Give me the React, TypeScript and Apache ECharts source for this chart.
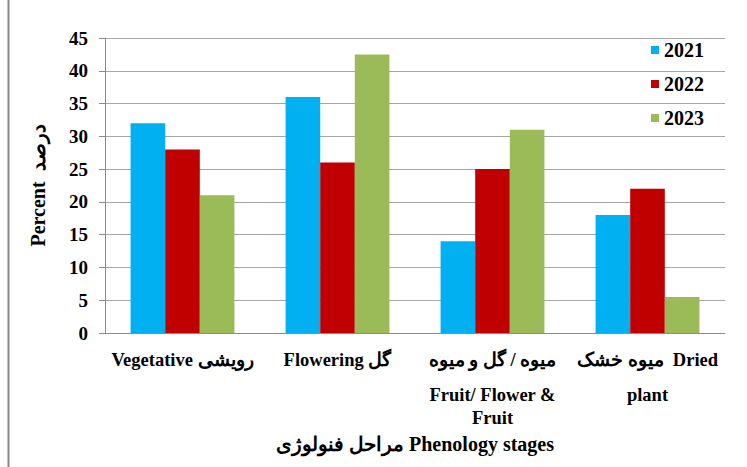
import React, { useEffect, useRef } from "react";
import * as echarts from "echarts";

const categories = [
  "Vegetative رویشی",
  "Flowering گل",
  "میوه / گل و میوه\nFruit/ Flower &\nFruit",
  "میوه خشک  Dried\nplant",
];
const seriesNames = ["2021", "2022", "2023"];
const values2021 = [32, 36, 14, 18];
const values2022 = [28, 26, 25, 22];
const values2023 = [21, 42.5, 31, 5.5];
const colors = ["#00B0F0", "#C00000", "#9BBB59"];
const yAxisTitle = "Percent  درصد";
const xAxisTitle = "مراحل فنولوژی Phenology stages";

const FONT = "Liberation Serif";

export default function App() {
  const ref = useRef<HTMLDivElement>(null);
  useEffect(() => {
    if (!ref.current) return;
    const chart = echarts.init(ref.current, null, { renderer: "svg" });
    const data = [values2021, values2022, values2023];
    chart.setOption({
      animation: false,
      backgroundColor: "#ffffff",
      textStyle: { fontFamily: FONT },
      grid: { left: 105, right: 22, top: 38, bottom: 134, containLabel: false },
      legend: {
        orient: "vertical",
        left: 646,
        top: 35,
        itemWidth: 8,
        itemHeight: 8,
        itemGap: 14,
        icon: "rect",
        textStyle: { fontFamily: FONT, fontWeight: "bold", fontSize: 20, color: "#000" },
        data: seriesNames,
      },
      xAxis: {
        type: "category",
        data: categories,
        name: xAxisTitle,
        nameLocation: "middle",
        nameGap: 101,
        nameTextStyle: { fontFamily: FONT, fontWeight: "bold", fontSize: 20, color: "#000" },
        axisLine: { lineStyle: { color: "#8C8C8C", width: 1 } },
        axisTick: { show: false },
        axisLabel: {
          interval: 0,
          margin: 3.5,
          formatter: (v: string) => {
            const lines = v.split("\n");
            return lines.map((l, i) => (i === 0 ? `{a|${l}}` : `{b|${l}}`)).join("\n");
          },
          rich: {
            a: { fontFamily: FONT, fontWeight: "bold", fontSize: 18.5, color: "#000", lineHeight: 47 },
            b: { fontFamily: FONT, fontWeight: "bold", fontSize: 18.5, color: "#000", lineHeight: 23 },
          },
        },
      },
      yAxis: {
        type: "value",
        min: 0,
        max: 45,
        interval: 5,
        name: yAxisTitle,
        nameLocation: "middle",
        nameGap: 57,
        nameTextStyle: { fontFamily: FONT, fontWeight: "bold", fontSize: 20, color: "#000" },
        axisLine: { show: true, lineStyle: { color: "#8C8C8C", width: 1 } },
        axisTick: { show: true, length: 6, lineStyle: { color: "#8C8C8C" } },
        axisLabel: { fontFamily: FONT, fontWeight: "bold", fontSize: 19, color: "#000", margin: 17 },
        splitLine: { lineStyle: { color: "#A6A6A6", width: 1 } },
      },
      series: seriesNames.map((n, i) => ({
        name: n,
        type: "bar",
        data: data[i],
        barGap: "0%",
        barCategoryGap: "33%",
        itemStyle: { color: colors[i] },
      })),
      graphic: [
        {
          type: "line",
          shape: { x1: 8.5, y1: 0, x2: 8.5, y2: 467 },
          style: { stroke: "#8A8A8A", lineWidth: 2 },
        },
      ],
    });
    return () => chart.dispose();
  }, []);
  return (
    <div
      ref={ref}
      style={{ position: "fixed", left: 0, top: 0, width: 747, height: 467 }}
    />
  );
}
